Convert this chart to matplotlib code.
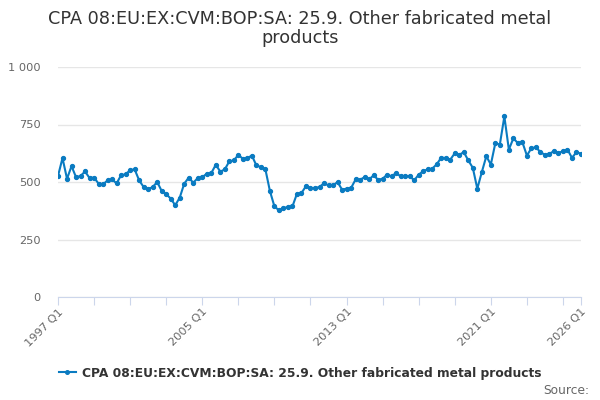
import numpy as np
import matplotlib.pyplot as plt
from matplotlib.lines import Line2D

# quarterly series, 1997 Q1 .. 2026 Q1
start_year = 1997
values = [
    526, 604, 514, 569, 521, 526, 546, 517, 519, 493, 490, 507,
    511, 494, 530, 533, 552, 555, 507, 478, 469, 478, 500, 461,
    447, 428, 399, 432, 493, 519, 497, 517, 521, 536, 539, 575,
    545, 555, 590, 594, 618, 601, 604, 615, 572, 565, 555, 461,
    394, 377, 387, 391, 394, 449, 452, 482, 474, 474, 478, 495,
    485, 485, 500, 467, 471, 474, 511, 510, 521, 511, 529, 510,
    514, 532, 524, 540, 524, 526, 526, 507, 532, 547, 555, 558,
    577, 606, 604, 597, 625, 618, 630, 594, 562, 471, 543, 612,
    576, 669, 663, 785, 641, 690, 669, 673, 615, 647, 651, 630,
    618, 623, 634, 626, 634, 641, 605, 630, 623,
]
labels = [f"{start_year + i // 4} Q{i % 4 + 1}" for i in range(len(values))]
series_name = "CPA 08:EU:EX:CVM:BOP:SA: 25.9. Other fabricated metal products"
title = "CPA 08:EU:EX:CVM:BOP:SA: 25.9. Other fabricated metal\nproducts"
y_ticks = [0, 250, 500, 750, 1000]
y_tick_labels = ["0", "250", "500", "750", "1 000"]

line_color = "#0a7bc1"
x = np.arange(len(values))

fig = plt.figure(figsize=(6, 4), dpi=100)
ax = fig.add_axes([58 / 600, 103 / 400, 523 / 600, 230 / 400])

ax.plot(x, values, color=line_color, lw=1.5, marker="o", ms=2.8, zorder=3)

ax.set_xlim(0, len(values) - 1)
ax.set_ylim(0, 1000)
ax.set_yticks(y_ticks)
ax.set_yticklabels(y_tick_labels)
ax.grid(axis="y", color="#e6e6e6", lw=1)
ax.set_axisbelow(True)

# ticks every 2 years, labels every 8 years plus the last quarter
tick_pos = list(range(0, len(values) - 4, 8)) + [len(values) - 1]
ax.set_xticks(tick_pos)
label_pos = [0, 32, 64, 96, len(values) - 1]
ax.set_xticklabels([labels[p] if p in label_pos else "" for p in tick_pos],
                   rotation=45, ha="right", rotation_mode="anchor")

ax.tick_params(axis="x", length=6, color="#ccd6eb", labelsize=8.2,
               labelcolor="#666666", pad=1)
ax.tick_params(axis="y", length=0, labelsize=8.2, labelcolor="#666666", pad=12.5)
for side in ["top", "right", "left"]:
    ax.spines[side].set_visible(False)
ax.spines["bottom"].set_color("#ccd6eb")

fig.text(0.5, 0.975, title, ha="center", va="top", fontsize=12.7,
         color="#333333", linespacing=1.1)

handle = Line2D([], [], color=line_color, lw=1.5, marker="o", ms=2.6)
fig.legend([handle], [series_name], loc="center", bbox_to_anchor=(0.5, 0.067),
           frameon=False, handlelength=1.4, handletextpad=0.5,
           prop={"weight": "bold", "size": 8.8}, labelcolor="#333333")
fig.text(0.982, 0.025, "Source:", ha="right", va="center", fontsize=8.8,
         color="#666666")

fig.savefig("out.png", dpi=100)
